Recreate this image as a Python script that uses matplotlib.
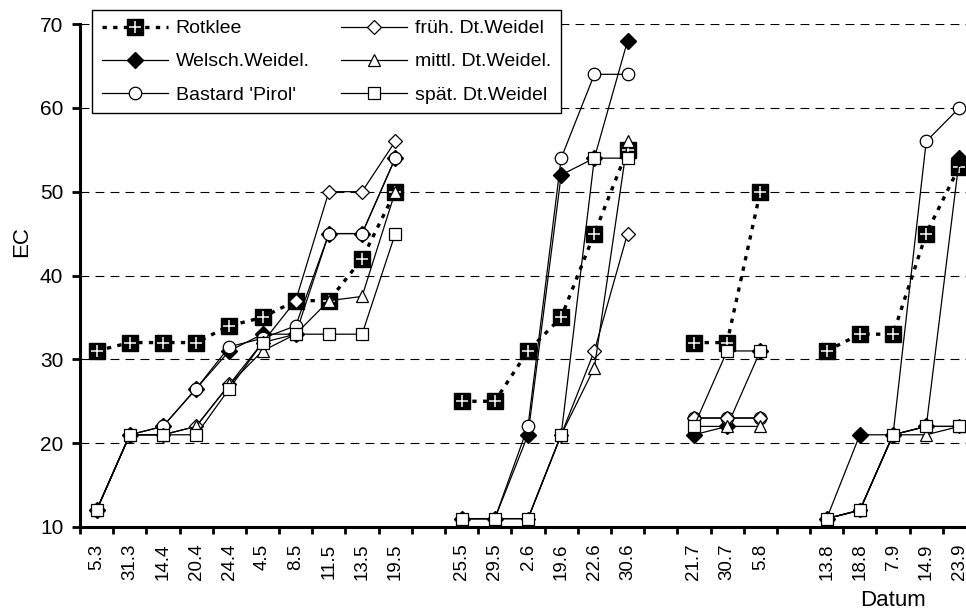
import numpy as np
import matplotlib
matplotlib.use("Agg")
import matplotlib.pyplot as plt
from matplotlib.legend_handler import HandlerTuple

plt.rcParams['font.family'] = ['Liberation Sans', 'DejaVu Sans']

N = None
categories = ['5.3', '31.3', '14.4', '20.4', '24.4', '4.5', '8.5', '11.5', '13.5', '19.5', '',
              '25.5', '29.5', '2.6', '19.6', '22.6', '30.6', '',
              '21.7', '30.7', '5.8', '',
              '13.8', '18.8', '7.9', '14.9', '23.9']

rotklee = [31, 32, 32, 32, 34, 35, 37, 37, 42, 50, N,
           25, 25, 31, 35, 45, 55, N,
           32, 32, 50, N,
           31, 33, 33, 45, 53]
welsch = [12, 21, 22, 26.5, 31, 33, 33, 45, 45, 54, N,
          11, 11, 21, 52, 54, 68, N,
          21, 22, 31, N,
          11, 21, 21, 22, 54]
pirol = [12, 21, 22, 26.5, 31.5, 32.5, 34, 45, 45, 54, N,
         11, 11, 22, 54, 64, 64, N,
         23, 23, 23, N,
         11, 12, 21, 56, 60]
frueh = [12, 21, 21, 22, 27, 32, 37, 50, 50, 56, N,
         11, 11, 11, 21, 31, 45, N,
         23, 23, 23, N,
         11, 12, 21, 22, 22]
mittl = [12, 21, 21, 22, 27, 31, 33, 37, 37.5, 50, N,
         11, 11, 11, 21, 29, 56, N,
         22, 22, 22, N,
         11, 12, 21, 21, 22]
spaet = [12, 21, 21, 21, 26.5, 32, 33, 33, 33, 45, N,
         11, 11, 11, 21, 54, 54, N,
         22, 31, 31, N,
         11, 12, 21, 22, 22]

labels = ['Rotklee', 'Welsch.Weidel.', "Bastard 'Pirol'",
          'früh. Dt.Weidel', 'mittl. Dt.Weidel.', 'spät. Dt.Weidel']


def arr(v):
    return np.array([np.nan if x is None else x for x in v], dtype=float)


W, H = 966, 612
fig = plt.figure(figsize=(W / 100, H / 100), dpi=100)
left, right, top, bottom = 80, 976, 24, 527
ax = fig.add_axes([left / W, 1 - bottom / H, (right - left) / W, (bottom - top) / H])

x = np.arange(len(categories))

lw = 0.9
rk, = ax.plot(x, arr(rotklee), color='black', lw=2.4, dashes=(1.3, 1.9),
              marker='s', ms=11.5, mfc='black', mec='black', zorder=3)
rkp, = ax.plot(x, arr(rotklee), ls='none', marker='+', ms=9, mew=1.1,
               color='white', zorder=3.1)
h_w, = ax.plot(x, arr(welsch), color='black', lw=lw, marker='D', ms=8,
               mfc='black', mec='black', zorder=4)
h_p, = ax.plot(x, arr(pirol), color='black', lw=lw, marker='o', ms=9,
               mfc='white', mec='black', mew=0.9, zorder=5)
h_f, = ax.plot(x, arr(frueh), color='black', lw=lw, marker='D', ms=7.5,
               mfc='white', mec='black', mew=0.9, zorder=6)
h_m, = ax.plot(x, arr(mittl), color='black', lw=lw, marker='^', ms=9,
               mfc='white', mec='black', mew=0.9, zorder=7)
h_s, = ax.plot(x, arr(spaet), color='black', lw=lw, marker='s', ms=9,
               mfc='white', mec='black', mew=0.9, zorder=8)

ax.set_xlim(-0.5, len(categories) - 0.5)
ax.set_ylim(10, 70)
ax.set_yticks(np.arange(10, 71, 10))
ax.set_xticks(np.arange(-0.5, len(categories), 1.0))
ax.set_xticklabels([])
ax.set_xticks(x, minor=True)
ax.set_xticklabels(categories, minor=True, rotation=90, fontsize=13.5)
ax.tick_params(axis='x', which='major', direction='out', length=5, width=2)
ax.tick_params(axis='x', which='minor', length=0, pad=12)
ax.tick_params(axis='y', direction='out', length=6, width=2, labelsize=15, pad=6)

for s in ['top', 'right']:
    ax.spines[s].set_visible(False)
for s in ['left', 'bottom']:
    ax.spines[s].set_linewidth(2.2)

for yv in range(20, 71, 10):
    ax.axhline(yv, color='black', lw=0.8, dashes=(8, 5.5), zorder=1)

fig.text(22 / W, 1 - 242 / H, 'EC', rotation=90, fontsize=16, ha='center', va='center')
fig.text(893 / W, 1 - 600 / H, 'Datum', fontsize=16, ha='center', va='center')

leg = fig.legend([(rk, rkp), h_w, h_p, h_f, h_m, h_s], labels, ncol=2,
                 loc='upper left', bbox_to_anchor=(92 / W, 1 - 10 / H),
                 borderaxespad=0, fontsize=14, handlelength=3.4, columnspacing=1.6,
                 labelspacing=0.8, handletextpad=0.4, borderpad=0.5,
                 fancybox=False, framealpha=1, edgecolor='black',
                 handler_map={tuple: HandlerTuple(ndivide=1, pad=0)})
leg.get_frame().set_linewidth(1.0)
leg.set_zorder(20)

fig.savefig('out.png', dpi=100)
